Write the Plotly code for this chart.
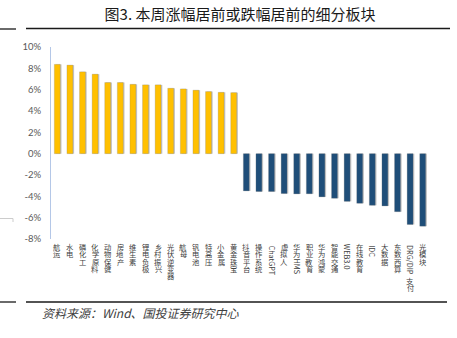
import plotly.graph_objects as go

categories = ["航运", "水电", "磷化工", "化学原料", "动物保健", "房地产", "维生素", "锂电负极",
              "乡村振兴", "光伏逆变器", "航母", "钒电池", "特高压", "小金属", "黄金珠宝",
              "抖音平台", "操作系统", "ChatGPT", "虚拟人", "华为HMS", "职业教育", "华为鸿蒙",
              "智能交通", "WEB3.0", "在线教育", "IDC", "大数据", "东数西算", "DRG/DIP支付", "光模块"]
values = [8.37, 8.3, 7.67, 7.45, 6.67, 6.67, 6.5, 6.45, 6.45, 6.13, 6.07, 5.95, 5.82, 5.75, 5.72,
          -3.49, -3.55, -3.55, -3.74, -3.77, -3.76, -4.05, -4.18, -4.47, -4.65, -4.84, -4.9,
          -5.44, -6.64, -6.8]
y_ticks = [-8, -6, -4, -2, 0, 2, 4, 6, 8, 10]
y_ticktext = [f"{v}%" for v in y_ticks]
title_text = "图3. 本周涨幅居前或跌幅居前的细分板块"
source_text = "资料来源：Wind、国投证券研究中心"

W, H = 457, 338
L, R, T, B = 51, 28, 47, 99
PW, PH = W - L - R, H - T - B


def px_x(p):
    return (p - L) / PW


def px_y(p):
    return (H - B - p) / PH


colors = ["#FFC000" if v >= 0 else "#1F4E79" for v in values]

fig = go.Figure()
fig.add_trace(go.Bar(x=categories, y=values, width=0.47, offset=-0.235 + 0.1,
                     marker=dict(color="rgba(90,90,90,0.35)", line=dict(width=0)),
                     hoverinfo="skip", showlegend=False))
fig.add_trace(go.Bar(x=categories, y=values, width=0.47, offset=-0.235,
                     marker=dict(color=colors, line=dict(color="rgba(120,120,120,0.6)", width=0.4)),
                     showlegend=False))

annotations = []
label_font = dict(family="Noto Sans CJK SC", size=7.3, color="#404040")
pitch = 7.3
start_px = 243.5


def ascii_w(ch):
    if ch.isupper():
        return 5.0
    if ch.islower():
        return 4.0
    if ch.isdigit():
        return 4.2
    if ch in "./":
        return 2.4
    return 4.0


for cat in categories:
    runs = []
    for ch in cat:
        is_ascii = ord(ch) < 128
        if runs and runs[-1][0] and is_ascii:
            runs[-1][1] += ch
        else:
            runs.append([is_ascii, ch])
    off = start_px
    for is_ascii, txt in runs:
        if is_ascii:
            ln = sum(ascii_w(c) for c in txt) + 1
            annotations.append(dict(x=cat, xref="x", y=px_y(off + ln / 2), yref="paper",
                                    yanchor="middle", xanchor="center", text=txt,
                                    textangle=90, showarrow=False, font=label_font,
                                    borderpad=0))
            off += ln
        else:
            annotations.append(dict(x=cat, xref="x", y=px_y(off + pitch / 2), yref="paper",
                                    yanchor="middle", xanchor="center", text=txt,
                                    showarrow=False, font=label_font, borderpad=0))
            off += pitch

annotations.append(dict(x=px_x(40), xref="paper", y=px_y(312), yref="paper", xanchor="left",
                        yanchor="middle", text=f"<i>{source_text}</i>", showarrow=False,
                        font=dict(family="Noto Sans CJK SC", size=12, color="#404040")))

line_col = "#1a1a1a"
shapes = [
    dict(type="line", xref="paper", yref="paper", x0=px_x(0), x1=px_x(16), y0=px_y(29), y1=px_y(29),
         line=dict(color=line_col, width=1.3)),
    dict(type="line", xref="paper", yref="paper", x0=px_x(26), x1=px_x(450), y0=px_y(28.5), y1=px_y(28.5),
         line=dict(color=line_col, width=1.3)),
    dict(type="line", xref="paper", yref="paper", x0=px_x(0), x1=px_x(16), y0=px_y(302), y1=px_y(302),
         line=dict(color=line_col, width=1.3)),
    dict(type="line", xref="paper", yref="paper", x0=px_x(26), x1=px_x(447), y0=px_y(302), y1=px_y(302),
         line=dict(color=line_col, width=1.3)),
    dict(type="line", xref="paper", yref="paper", x0=px_x(0), x1=px_x(13), y0=px_y(218.5), y1=px_y(218.5),
         line=dict(color="#cccccc", width=1)),
    dict(type="line", xref="paper", yref="paper", x0=px_x(13), x1=px_x(13), y0=px_y(218.5), y1=px_y(222),
         line=dict(color="#cccccc", width=1)),
]

fig.update_layout(
    width=W, height=H,
    margin=dict(l=L, r=R, t=T, b=B, pad=0),
    paper_bgcolor="white", plot_bgcolor="white",
    barmode="overlay",
    title=dict(text=title_text, x=0.5, xref="paper", xanchor="center", y=1 - 15 / H,
               yref="container", yanchor="middle",
               font=dict(family="Noto Sans CJK SC", size=15, color="#1a1a1a", weight="normal")),
    xaxis=dict(showticklabels=False, showline=False, showgrid=False, zeroline=False,
               ticks="", range=[-0.5, len(categories) - 0.5]),
    yaxis=dict(range=[-8, 10], tickvals=y_ticks, ticktext=y_ticktext, showgrid=False,
               zeroline=False, showline=True, linecolor="#B4C7E7", linewidth=1,
               ticks="", ticklabelstandoff=7,
               tickfont=dict(family="Lato", size=9.5, color="#595959")),
    annotations=annotations,
    shapes=shapes,
)

fig.write_html("out.html")
